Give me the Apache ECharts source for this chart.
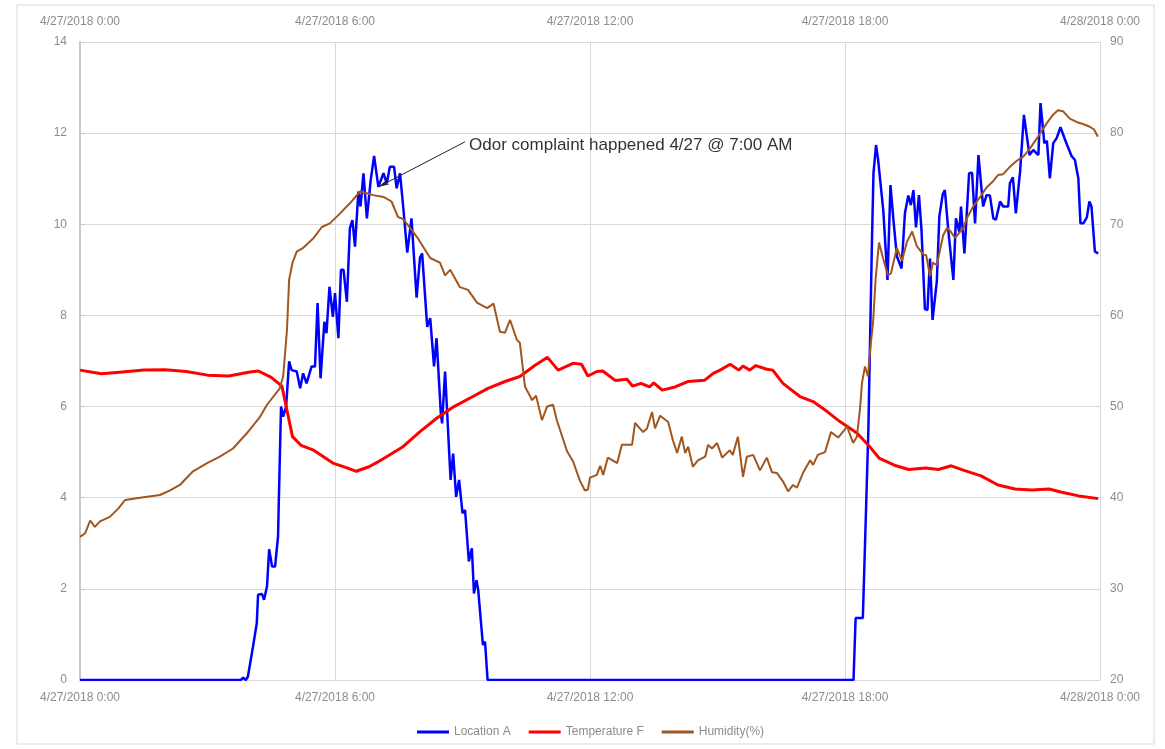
<!DOCTYPE html>
<html style="height: 100%">
<head>
  <meta charset="UTF-8" />
  <title>Location A</title>
  <script src="https://cdn.jsdelivr.net/npm/echarts@6/dist/echarts.min.js"></script>
</head>
<body style="height: 100%; margin: 0; background: #fff">
  <div id="container" style="width: 1165px; height: 749px"></div>
  <script>
    // hours since 4/27/2018 0:00, value
    const locationA = [
      [0, 0], [3.78, 0], [3.84, 0.05], [3.9, 0], [3.95, 0.07], [4.07, 0.73], [4.16, 1.25], [4.19, 1.87],
      [4.28, 1.89], [4.33, 1.76], [4.4, 2.05], [4.45, 2.87], [4.52, 2.49], [4.59, 2.49], [4.66, 3.15],
      [4.68, 4.02], [4.73, 6.0], [4.78, 5.78], [4.85, 6.0], [4.92, 6.99], [4.98, 6.8], [5.1, 6.77],
      [5.18, 6.4], [5.25, 6.73], [5.33, 6.51], [5.45, 6.88], [5.53, 6.88], [5.59, 8.27], [5.66, 6.62],
      [5.75, 7.86], [5.8, 7.61], [5.87, 8.63], [5.95, 7.97], [6.0, 8.49], [6.08, 7.5], [6.14, 9.0],
      [6.2, 9.0], [6.28, 8.3], [6.35, 9.91], [6.41, 10.09], [6.47, 9.51], [6.55, 10.72], [6.6, 10.39],
      [6.67, 11.12], [6.75, 10.13], [6.84, 10.97], [6.92, 11.5], [7.02, 10.82], [7.14, 11.12],
      [7.22, 10.9], [7.29, 11.26], [7.39, 11.26], [7.45, 10.79], [7.53, 11.12], [7.61, 10.33],
      [7.7, 9.38], [7.8, 10.13], [7.92, 8.39], [8.0, 9.27], [8.05, 9.36], [8.17, 7.75], [8.24, 7.94],
      [8.33, 6.88], [8.39, 7.5], [8.49, 5.85], [8.52, 5.63], [8.59, 6.77], [8.72, 4.39], [8.78, 4.97],
      [8.85, 4.02], [8.92, 4.39], [9.0, 3.66], [9.06, 3.73], [9.15, 2.6], [9.22, 2.89], [9.27, 1.9],
      [9.33, 2.19], [9.37, 1.97], [9.48, 0.77], [9.53, 0.84], [9.59, 0], [18.2, 0], [18.25, 1.36],
      [18.42, 1.36], [18.55, 5.49], [18.63, 9.44], [18.67, 11.12], [18.73, 11.74], [18.78, 11.41],
      [18.9, 10.31], [19.0, 8.78], [19.07, 10.86], [19.14, 10.09], [19.22, 9.3], [19.33, 9.03],
      [19.41, 10.24], [19.49, 10.63], [19.55, 10.42], [19.61, 10.75], [19.67, 9.93], [19.74, 10.64],
      [19.8, 9.87], [19.88, 8.14], [19.94, 8.12], [20.0, 9.25], [20.06, 7.9], [20.16, 8.74],
      [20.22, 10.17], [20.3, 10.66], [20.35, 10.75], [20.43, 9.87], [20.55, 8.78], [20.61, 10.13],
      [20.69, 9.83], [20.73, 10.39], [20.81, 9.36], [20.92, 11.12], [20.99, 11.13], [21.06, 10.02],
      [21.14, 11.52], [21.25, 10.39], [21.33, 10.64], [21.41, 10.63], [21.49, 10.13], [21.55, 10.1],
      [21.65, 10.5], [21.72, 10.39], [21.84, 10.39], [21.88, 10.9], [21.95, 11.03], [22.02, 10.24],
      [22.12, 11.16], [22.21, 12.4], [22.34, 11.52], [22.43, 11.63], [22.55, 11.52], [22.6, 12.66],
      [22.69, 11.78], [22.75, 11.83], [22.82, 11.01], [22.9, 11.78], [22.98, 11.89], [23.07, 12.13],
      [23.18, 11.85], [23.33, 11.5], [23.41, 11.41], [23.49, 11.01], [23.54, 10.02], [23.61, 10.02],
      [23.69, 10.15], [23.75, 10.5], [23.8, 10.39], [23.88, 9.4], [23.96, 9.36]
    ];

    const temperatureF = [
      [0, 6.8], [0.5, 6.72], [1, 6.76], [1.5, 6.8], [2, 6.81], [2.5, 6.77], [3, 6.69], [3.5, 6.67],
      [4, 6.76], [4.2, 6.78], [4.5, 6.64], [4.75, 6.45], [4.87, 5.92], [5.0, 5.34], [5.2, 5.15],
      [5.48, 5.05], [5.95, 4.76], [6.3, 4.65], [6.5, 4.58], [6.8, 4.68], [7.0, 4.78], [7.3, 4.95],
      [7.6, 5.12], [8.0, 5.45], [8.4, 5.75], [8.8, 6.0], [9.2, 6.2], [9.6, 6.4], [10.0, 6.55],
      [10.35, 6.66], [10.7, 6.9], [11.0, 7.08], [11.25, 6.8], [11.6, 6.95], [11.8, 6.93], [11.95, 6.67],
      [12.16, 6.77], [12.3, 6.78], [12.6, 6.57], [12.87, 6.6], [13.0, 6.45], [13.2, 6.51], [13.4, 6.43],
      [13.5, 6.52], [13.7, 6.36], [14.0, 6.43], [14.3, 6.55], [14.7, 6.58], [14.9, 6.73], [15.06, 6.8],
      [15.3, 6.93], [15.5, 6.8], [15.6, 6.89], [15.76, 6.8], [15.9, 6.9], [16.16, 6.82], [16.3, 6.8],
      [16.54, 6.51], [16.94, 6.22], [17.25, 6.11], [17.58, 5.89], [17.88, 5.67], [18.28, 5.42],
      [18.6, 5.1], [18.8, 4.87], [19.2, 4.7], [19.5, 4.62], [19.9, 4.65], [20.2, 4.62], [20.5, 4.7],
      [20.8, 4.6], [21.2, 4.48], [21.6, 4.28], [22.0, 4.19], [22.4, 4.17], [22.8, 4.19], [23.1, 4.12],
      [23.5, 4.04], [23.96, 3.98]
    ];

    const humidity = [
      [0, 35.7], [0.12, 36.1], [0.24, 37.5], [0.35, 36.8], [0.47, 37.4], [0.7, 37.9], [0.9, 38.8],
      [1.06, 39.75], [1.41, 40.0], [1.88, 40.3], [2.12, 40.8], [2.35, 41.4], [2.66, 42.9], [2.99, 43.8],
      [3.29, 44.5], [3.6, 45.4], [3.93, 47.1], [4.24, 48.9], [4.4, 50.2], [4.7, 52.0], [4.78, 53.3],
      [4.87, 58.4], [4.92, 63.9], [5.0, 65.8], [5.1, 67.0], [5.25, 67.4], [5.36, 67.9], [5.48, 68.4],
      [5.69, 69.7], [5.88, 70.1], [6.12, 71.2], [6.35, 72.3], [6.59, 73.6], [6.75, 73.4], [6.9, 73.2],
      [7.14, 73.0], [7.33, 72.5], [7.48, 70.8], [7.6, 70.6], [7.75, 69.7], [7.93, 68.6], [8.24, 66.3],
      [8.47, 65.8], [8.59, 64.4], [8.71, 65.0], [8.94, 63.1], [9.13, 62.8], [9.34, 61.4], [9.58, 60.8],
      [9.73, 61.3], [9.88, 58.2], [10.0, 58.1], [10.12, 59.5], [10.28, 57.3], [10.35, 57.0],
      [10.47, 52.2], [10.64, 50.7], [10.73, 51.2], [10.87, 48.5], [10.99, 50.0], [11.13, 50.2],
      [11.22, 48.5], [11.46, 45.1], [11.6, 44.0], [11.76, 41.9], [11.88, 40.8], [11.95, 40.9],
      [12.0, 42.2], [12.16, 42.5], [12.24, 43.5], [12.31, 42.5], [12.42, 44.4], [12.64, 43.8],
      [12.75, 45.8], [12.99, 45.8], [13.06, 48.2], [13.25, 47.2], [13.34, 47.6], [13.46, 49.4],
      [13.53, 47.6], [13.65, 49.0], [13.84, 48.3], [13.95, 46.3], [14.05, 44.9], [14.16, 46.7],
      [14.24, 44.9], [14.31, 45.6], [14.42, 43.4], [14.54, 44.1], [14.71, 44.5], [14.78, 45.8],
      [14.87, 45.4], [14.99, 46.0], [15.11, 44.4], [15.29, 45.2], [15.36, 44.7], [15.48, 46.7],
      [15.6, 42.3], [15.69, 44.5], [15.84, 44.7], [16.0, 43.0], [16.16, 44.4], [16.28, 42.8],
      [16.4, 42.7], [16.54, 41.8], [16.66, 40.7], [16.78, 41.4], [16.87, 41.1], [17.01, 42.7],
      [17.18, 44.1], [17.25, 43.6], [17.36, 44.7], [17.53, 45.0], [17.67, 47.2], [17.84, 46.6],
      [18.05, 47.8], [18.19, 46.0], [18.28, 46.7], [18.35, 49.6], [18.4, 52.6], [18.47, 54.4],
      [18.54, 53.3], [18.6, 56.6], [18.66, 59.2], [18.72, 64.0], [18.8, 68.0], [18.9, 66.2],
      [19.01, 64.4], [19.08, 64.6], [19.22, 67.4], [19.34, 66.0], [19.46, 68.1], [19.58, 69.2],
      [19.69, 67.6], [19.84, 66.7], [19.91, 66.6], [20.0, 64.3], [20.07, 65.8], [20.16, 65.5],
      [20.31, 68.8], [20.4, 69.6], [20.47, 69.3], [20.59, 68.5], [20.71, 69.2], [20.78, 69.5],
      [20.87, 70.7], [21.01, 71.9], [21.18, 73.0], [21.34, 74.1], [21.48, 74.7], [21.6, 75.4],
      [21.72, 75.5], [21.88, 76.3], [22.05, 77.0], [22.19, 77.4], [22.35, 78.3], [22.54, 79.6],
      [22.75, 81.1], [22.89, 82.0], [23.01, 82.5], [23.13, 82.4], [23.29, 81.6], [23.46, 81.2],
      [23.6, 81.0], [23.76, 80.7], [23.86, 80.4], [23.95, 79.6]
    ];

    const complaintPoint = [7.02, 10.82];
    const complaintLabelAt = [9.06, 11.81];
    const complaintText = 'Odor complaint happened 4/27 @ 7:00 AM';

    function hourLabel(h) {
      if (h >= 24) return '4/28/2018 0:00';
      return '4/27/2018 ' + h + ':00';
    }

    const font = '"Liberation Sans", Arial, sans-serif';
    const grey = '#8c8c8c';
    const gridGrey = '#d9d9d9';

    const chart = echarts.init(document.getElementById('container'), null, { renderer: 'canvas' });
    const option = {
      animation: false,
      backgroundColor: '#fff',
      textStyle: { fontFamily: font },
      graphic: [{
        type: 'rect',
        shape: { x: 17, y: 5, width: 1137, height: 739 },
        style: { fill: 'none', stroke: gridGrey, lineWidth: 1 },
        silent: true
      }],
      grid: { left: 80, right: 65, top: 42, bottom: 69 },
      legend: {
        left: 412,
        top: 721,
        icon: 'rect',
        itemWidth: 32,
        itemHeight: 3,
        itemGap: 18,
        textStyle: { color: grey, fontSize: 12, fontFamily: font },
        data: ['Location A', 'Temperature F', 'Humidity(%)']
      },
      xAxis: [{
        type: 'value',
        position: 'bottom',
        min: 0,
        max: 24,
        interval: 6,
        axisLine: { lineStyle: { color: gridGrey } },
        axisTick: { show: false },
        splitLine: { lineStyle: { color: gridGrey } },
        axisLabel: { formatter: hourLabel, color: grey, fontSize: 12, margin: 12 }
      }, {
        type: 'value',
        position: 'top',
        min: 0,
        max: 24,
        interval: 6,
        axisLine: { show: false },
        axisTick: { show: false },
        splitLine: { show: false },
        axisLabel: { formatter: hourLabel, color: grey, fontSize: 12, margin: 14 }
      }],
      yAxis: [{
        type: 'value',
        min: 0,
        max: 14,
        interval: 2,
        axisLine: { show: true, lineStyle: { color: gridGrey } },
        axisTick: { show: false },
        splitLine: { lineStyle: { color: gridGrey } },
        axisLabel: { color: grey, fontSize: 12, margin: 13 }
      }, {
        type: 'value',
        min: 20,
        max: 90,
        interval: 10,
        position: 'right',
        axisLine: { show: true, lineStyle: { color: '#c8c8c8', width: 2 } },
        axisTick: { show: true, length: 5, lineStyle: { color: '#c8c8c8' } },
        splitLine: { show: false },
        axisLabel: { color: grey, fontSize: 12, margin: 10 }
      }],
      series: [{
        name: 'Location A',
        type: 'line',
        data: locationA,
        showSymbol: false,
        color: '#0000ff',
        lineStyle: { width: 2.5 },
        markLine: {
          silent: true,
          symbol: ['none', 'arrow'],
          symbolSize: [4, 11],
          lineStyle: { color: '#222', width: 1, type: 'solid' },
          label: { show: false },
          data: [[{ coord: complaintLabelAt }, { coord: complaintPoint }]]
        },
        markPoint: {
          silent: true,
          data: [{
            coord: complaintLabelAt,
            symbol: 'circle',
            symbolSize: 0,
            label: {
              show: true,
              position: 'right',
              distance: 4,
              offset: [0, 4],
              formatter: complaintText,
              color: '#333',
              fontSize: 17,
              fontFamily: font
            }
          }]
        }
      }, {
        name: 'Temperature F',
        type: 'line',
        data: temperatureF,
        showSymbol: false,
        color: '#ff0000',
        lineStyle: { width: 3 }
      }, {
        name: 'Humidity(%)',
        type: 'line',
        yAxisIndex: 1,
        data: humidity,
        showSymbol: false,
        color: '#a0561e',
        lineStyle: { width: 2 }
      }]
    };
    chart.setOption(option);
  </script>
</body>
</html>
